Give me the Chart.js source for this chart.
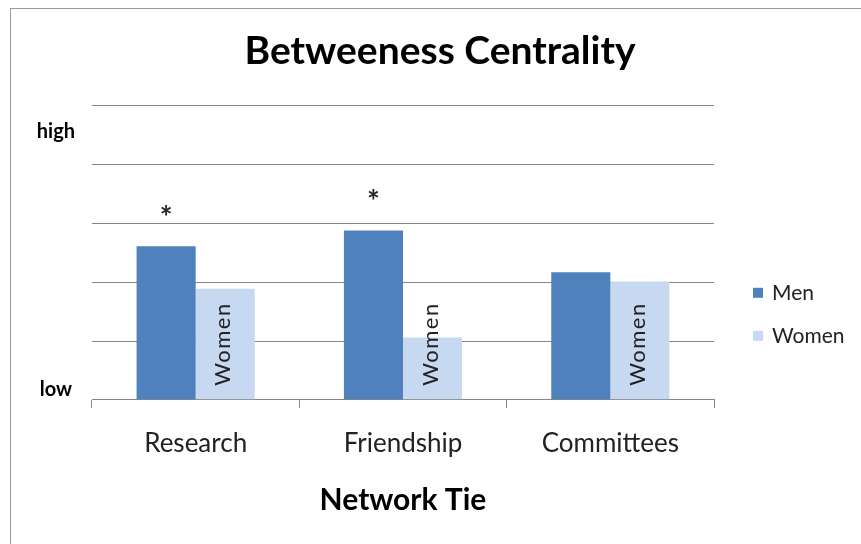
<!DOCTYPE html>
<html>
<head>
<meta charset="utf-8">
<title>Betweeness Centrality</title>
<script src="https://cdn.jsdelivr.net/npm/chart.js@4.4.1/dist/chart.umd.min.js"></script>
<style>
  html, body { margin: 0; padding: 0; background: #fff; overflow: hidden; }
</style>
</head>
<body>
<canvas id="myChart" width="861" height="544"></canvas>
<script>
var xValues = ["Research", "Friendship", "Committees"];
var menValues = [2.61, 2.88, 2.17];
var womenValues = [1.89, 1.06, 2.01];
var seriesNames = ["Men", "Women"];
var barColors = ["#4F81BD", "#C6D9F1"];
// significance marks drawn above the men bars
var sigMarks = ["*", "*", ""];
// the value axis only shows low / high
var yTickValues = [0.18, 4.57];
var yTickLabels = ["low", "high"];
var barText = "Women";

var fontFamily = "Lato, 'Liberation Sans', sans-serif";
Chart.defaults.font.family = fontFamily;

// grey frame around the whole chart
const framePlugin = {
  id: 'frame',
  beforeDraw(chart) {
    const c = chart.ctx;
    c.save();
    c.fillStyle = '#fff';
    c.fillRect(0, 0, chart.width, chart.height);
    c.strokeStyle = '#9a9a9a';
    c.lineWidth = 1;
    c.strokeRect(10.5, 8.5, chart.width + 20, chart.height + 20);
    c.restore();
  }
};

// asterisks over the men bars, rotated "Women" text in the women bars
const barNotes = {
  id: 'barNotes',
  afterDatasetsDraw(chart) {
    const c = chart.ctx;
    const base = chart.scales.y.getPixelForValue(0);
    const men = chart.getDatasetMeta(0).data;
    const women = chart.getDatasetMeta(1).data;
    c.save();
    c.fillStyle = '#222';
    c.font = 'bold 30px ' + fontFamily;
    c.textAlign = 'center';
    c.textBaseline = 'middle';
    men.forEach(function (bar, i) {
      if (sigMarks[i]) c.fillText(sigMarks[i], bar.x, bar.y - 28);
    });
    c.font = '22px ' + fontFamily;
    c.textAlign = 'left';
    c.letterSpacing = '1.5px';
    women.forEach(function (bar) {
      c.save();
      c.translate(bar.x - 2, base - 14);
      c.rotate(-Math.PI / 2);
      c.fillText(barText, 0, 0);
      c.restore();
    });
    c.restore();
  }
};

// legend sitting to the right of the plot
const sideLegend = {
  id: 'sideLegend',
  afterDraw(chart) {
    const c = chart.ctx;
    const area = chart.chartArea;
    c.save();
    c.font = '21px ' + fontFamily;
    c.textBaseline = 'middle';
    chart.data.datasets.forEach(function (ds, i) {
      const y = area.top + 187 + i * 43;
      c.fillStyle = ds.backgroundColor;
      c.fillRect(area.right + 39, y - 5, 10, 10);
      c.fillStyle = '#222';
      c.fillText(ds.label, area.right + 58, y);
    });
    c.restore();
  }
};

const config = {
  type: 'bar',
  data: {
    labels: xValues,
    datasets: [{
      label: seriesNames[0],
      data: menValues,
      backgroundColor: barColors[0],
      categoryPercentage: 0.57,
      barPercentage: 1
    }, {
      label: seriesNames[1],
      data: womenValues,
      backgroundColor: barColors[1],
      categoryPercentage: 0.57,
      barPercentage: 1
    }]
  },
  options: {
    responsive: false,
    animation: false,
    layout: { padding: { left: 19, right: 0, top: 8, bottom: 26 } },
    plugins: {
      legend: { display: false },
      tooltip: { enabled: false },
      title: {
        display: true,
        text: 'Betweeness Centrality',
        color: '#000',
        font: { size: 39, weight: 'bold' },
        padding: { top: 20, bottom: 31 }
      }
    },
    scales: {
      x: {
        grid: { drawOnChartArea: false, tickLength: 8, color: '#868686' },
        border: { color: '#868686' },
        ticks: { color: '#222', font: { size: 26 }, padding: 20 },
        title: {
          display: true,
          text: 'Network Tie',
          color: '#000',
          font: { size: 30, weight: 'bold' },
          padding: { top: 3, bottom: 0 }
        }
      },
      y: {
        min: 0,
        max: 5,
        ticks: { display: false, stepSize: 1 },
        grid: { color: '#868686', drawTicks: false },
        border: { display: false },
        afterFit: function (s) { s.width = 0; }
      },
      y2: {
        axis: 'y',
        position: 'left',
        min: 0,
        max: 5,
        grid: { display: false },
        border: { display: false },
        afterBuildTicks: function (s) {
          s.ticks = yTickValues.map(function (v) { return { value: v }; });
        },
        ticks: {
          autoSkip: false,
          color: '#000',
          font: { size: 20, weight: 'bold' },
          crossAlign: 'center',
          padding: 9,
          callback: function (v, i) { return yTickLabels[i]; }
        },
        afterFit: function (s) { s.width = 73; }
      },
      yr: {
        axis: 'y',
        position: 'right',
        grid: { display: false },
        border: { display: false },
        ticks: { display: false },
        afterFit: function (s) { s.width = 147; }
      }
    }
  },
  plugins: [framePlugin, barNotes, sideLegend]
};

var ctx = document.getElementById('myChart');
var myChart = new Chart(ctx, config);
</script>
</body>
</html>
